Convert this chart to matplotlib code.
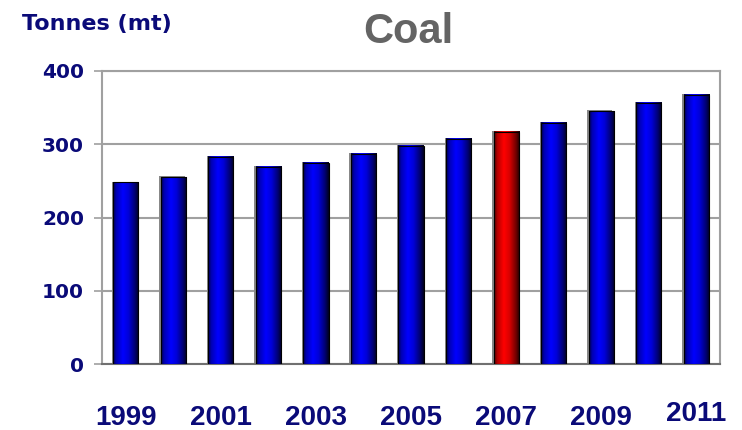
import numpy as np
import matplotlib.pyplot as plt
from matplotlib import font_manager

years = [1999, 2000, 2001, 2002, 2003, 2004, 2005, 2006, 2007, 2008, 2009, 2010, 2011]
tonnes = [248, 255, 283, 269, 275, 287, 298, 307, 317, 329, 345, 356, 367]
highlight_year = 2007
label_years = [1999, 2001, 2003, 2005, 2007, 2009, 2011]
yticks = [0, 100, 200, 300, 400]

NAVY = '#0a0a78'
GRID = '#a0a0a0'

# bold Liberation Sans Narrow for the title if installed
narrow = [f.name for f in font_manager.fontManager.ttflist
          if f.name == 'Liberation Sans Narrow' and f.weight in (600, 700, 800, 'bold')]
title_font = narrow[0] if narrow else 'Liberation Sans'
title_size = 33 if narrow else 30

fig = plt.figure(figsize=(7.42, 4.30), dpi=100)
ax = fig.add_axes([0.1375, 0.1528, 0.8329, 0.6821])

# cylinder-style shading across each bar
t = np.linspace(0, 1, 64)
shade = np.interp(t, [0, 0.12, 0.38, 0.6, 0.85, 1.0], [0.3, 0.7, 1.0, 0.85, 0.45, 0.12])
blue = np.zeros((1, 64, 3)); blue[..., 2] = shade
red = np.zeros((1, 64, 3)); red[..., 0] = shade

width = 0.53
for yr, val in zip(years, tonnes):
    img = red if yr == highlight_year else blue
    x0 = yr - width / 2
    # faint shadow edge
    ax.bar(yr - 0.03, val + 1.2, width, color='#888888', zorder=2, linewidth=0)
    ax.imshow(img, extent=[x0, x0 + width, 0, val], aspect='auto', zorder=3,
              interpolation='bilinear')
    ax.bar(yr, val, width, facecolor='none', edgecolor='black', linewidth=0.8, zorder=4)

ax.set_xlim(1998.5, 2011.5)
ax.set_ylim(0, 400)
ax.set_yticks(yticks)
ax.set_yticklabels([str(v) for v in yticks], fontfamily='DejaVu Sans',
                   fontweight='bold', fontsize=14.5, color=NAVY)
ax.tick_params(axis='y', length=6, width=1.2, color=GRID, pad=7)
ax.set_xticks([])
ax.yaxis.grid(True, color=GRID, linewidth=1.5, zorder=0)
ax.set_axisbelow(True)
for side in ['left', 'right', 'top']:
    ax.spines[side].set_color(GRID)
    ax.spines[side].set_linewidth(1.5)
ax.spines['bottom'].set_color('#707070')
ax.spines['bottom'].set_linewidth(1.5)

for yr in label_years:
    dy = 0.016 if yr == 2011 else 0.0
    ax.text(yr, -0.184 + dy, str(yr), transform=ax.get_xaxis_transform(),
            ha='center', va='center', fontfamily='Liberation Sans',
            fontweight='bold', fontsize=20, color=NAVY)

fig.text(0.03, 0.945, 'Tonnes (mt)', fontfamily='DejaVu Sans', fontweight='bold',
         fontsize=16, color=NAVY, ha='left', va='center')
fig.text(0.551, 0.925, 'Coal', fontfamily=title_font, fontweight='bold',
         fontsize=title_size, color='#646464', ha='center', va='center')

fig.savefig('out.png', dpi=100)
